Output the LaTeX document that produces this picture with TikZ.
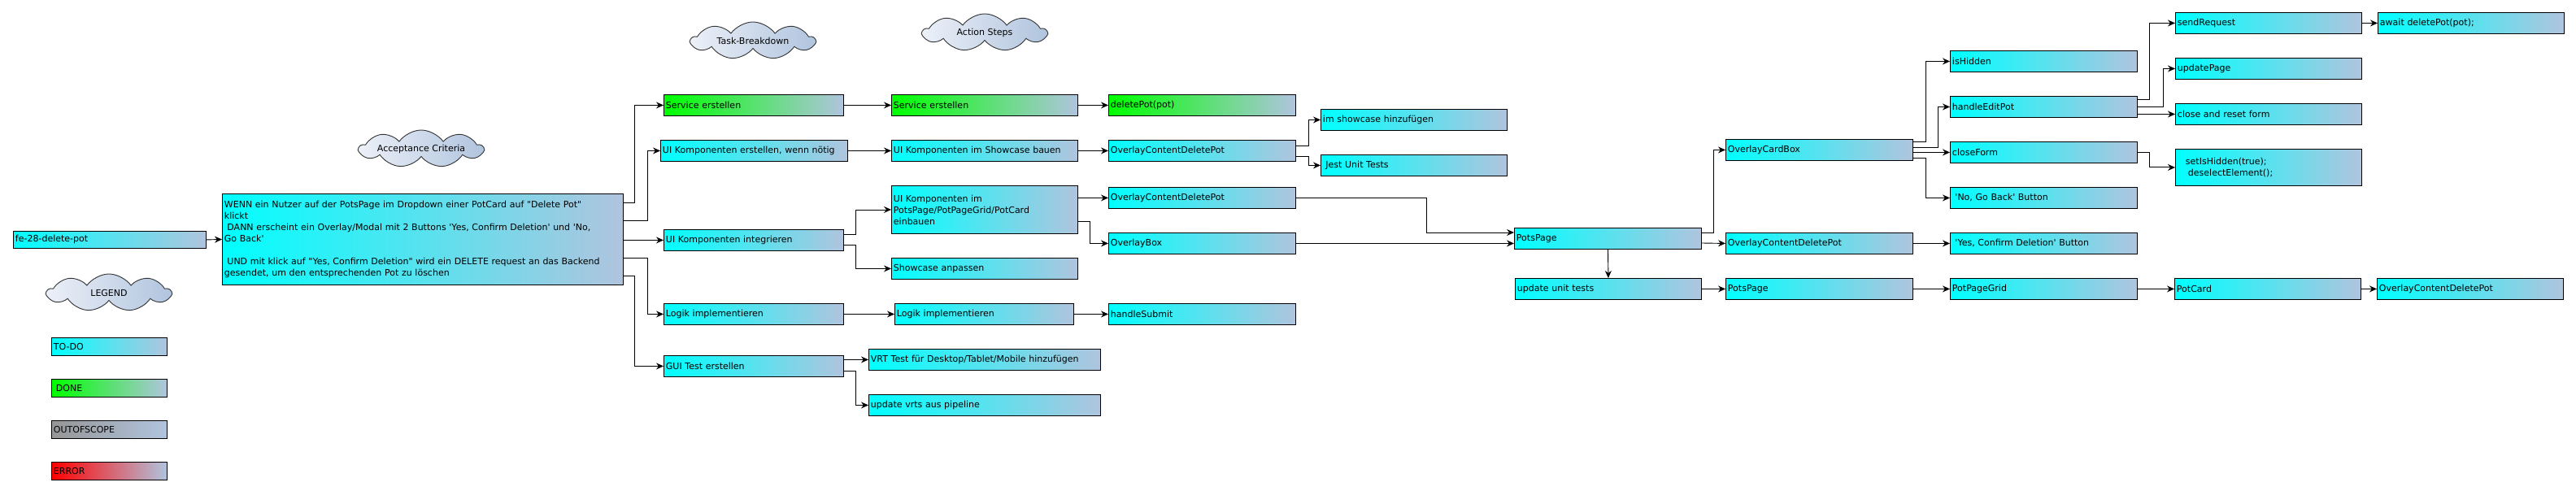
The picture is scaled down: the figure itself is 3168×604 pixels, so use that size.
\documentclass[tikz,border=0pt]{standalone}
\usepackage{fontspec}
\newfontfamily\boxfamily{DejaVu Sans}
\usetikzlibrary{shapes.symbols}
\usetikzlibrary{arrows.meta}

\definecolor{todo}{RGB}{0,255,255}
\definecolor{done}{RGB}{0,255,0}
\definecolor{outofscope}{RGB}{150,150,150}
\definecolor{error}{RGB}{255,0,0}
\definecolor{steel}{RGB}{176,196,222}
\definecolor{cloudleft}{RGB}{236,240,248}

\begin{document}
\begin{tikzpicture}[x=1pt,y=-1pt,
    font=\boxfamily\fontsize{11}{14}\selectfont,
    box/.style={draw=black, line width=0.9pt, anchor=north west, inner xsep=2.5pt, inner ysep=0pt,
        minimum height=26pt, text width=#1, align=left, left color=todo, right color=steel},
    box/.default=225pt,
    donebox/.style={box=#1, left color=done},
    donebox/.default=225pt,
    cloudnote/.style={cloud, cloud puffs=9, cloud puff arc=110, cloud ignores aspect, draw=black!80,
        line width=0.9pt, inner sep=0pt, minimum width=152pt, minimum height=46pt,
        left color=cloudleft, right color=steel},
    conn/.style={draw=black, line width=0.9pt, -{Stealth[length=9pt,width=8pt,inset=3pt]}}]
    \useasboundingbox (0,0) rectangle (3168,604);

    % Headings
    \node[cloudnote] (accept) at (518,183) {Acceptance Criteria};
    \node[cloudnote] (tasks) at (926,50) {Task-Breakdown};
    \node[cloudnote] (steps) at (1211,40) {Action Steps};

    % Legend
    \node[cloudnote] (legend) at (134,360) {LEGEND};
    \node[box=137pt, minimum height=22pt] (ltodo) at (63,415) {TO-DO};
    \node[box=137pt, minimum height=22pt, left color=done] (ldone) at (63,466) {\hspace*{3pt}DONE};
    \node[box=137pt, minimum height=22pt, left color=outofscope] (lscope) at (63,517) {OUTOFSCOPE};
    \node[box=137pt, minimum height=22pt, left color=error] (lerror) at (63,568) {ERROR};

    % Ticket and acceptance criteria
    \node[box=232pt, minimum height=21pt] (ticket) at (16,284) {fe-28-delete-pot};
    \node[box=488pt, minimum height=112pt] (ac) at (273,238) {WENN ein Nutzer auf der PotsPage im Dropdown einer PotCard auf "Delete Pot"\\
        klickt\\
        \hspace*{3.5pt}DANN erscheint ein Overlay/Modal mit 2 Buttons 'Yes, Confirm Deletion' und 'No,\\
        Go Back'\\
        \mbox{}\\
        \hspace*{3.5pt}UND mit klick auf "Yes, Confirm Deletion" wird ein DELETE request an das Backend\\
        gesendet, um den entsprechenden Pot zu löschen};

    % Task breakdown
    \node[donebox=216pt] (t1) at (816,116) {Service erstellen};
    \node[box] (t2) at (812,172) {UI Komponenten erstellen, wenn nötig};
    \node[box=216pt] (t3) at (816,282) {UI Komponenten integrieren};
    \node[box=216pt] (t4) at (816,373) {Logik implementieren};
    \node[box=216pt] (t5) at (816,437) {GUI Test erstellen};

    % Action steps
    \node[donebox=224pt] (as1) at (1096,116) {Service erstellen};
    \node[box=224pt] (as2) at (1096,172) {UI Komponenten im Showcase bauen};
    \node[box=224pt, minimum height=59pt] (as3) at (1096,228) {UI Komponenten im\\PotsPage/PotPageGrid/PotCard\\einbauen};
    \node[box=224pt] (as4) at (1096,317) {Showcase anpassen};
    \node[box=215pt] (as5) at (1100,373) {Logik implementieren};
    \node[box=280pt] (vrt) at (1068,429) {VRT Test für Desktop/Tablet/Mobile hinzufügen};
    \node[box=280pt] (vrts) at (1068,485) {update vrts aus pipeline};

    % Code level
    \node[donebox] (delpot) at (1363,116) {deletePot(pot)};
    \node[box] (ocdp1) at (1363,172) {OverlayContentDeletePot};
    \node[box] (ocdp2) at (1363,230) {OverlayContentDeletePot};
    \node[box] (obox) at (1363,286) {OverlayBox};
    \node[box] (submit) at (1363,373) {handleSubmit};
    \node[box=224pt] (showcase) at (1624,134) {im showcase hinzufügen};
    \node[box=224pt] (jest) at (1624,190) {\hspace*{3.5pt}Jest Unit Tests};

    % PotsPage and its children
    \node[box] (potspage) at (1862,280) {PotsPage};
    \node[box=224pt] (uut) at (1863,342) {update unit tests};
    \node[box] (ocb) at (2122,171) {OverlayCardBox};
    \node[box] (ocdp3) at (2122,286) {OverlayContentDeletePot};
    \node[box] (pp2) at (2122,342) {PotsPage};
    \node[box] (hidden) at (2398,62) {isHidden};
    \node[box] (edit) at (2398,118) {handleEditPot};
    \node[box] (close) at (2398,174) {closeForm};
    \node[box] (nogo) at (2398,230) {\hspace*{3.5pt}'No, Go Back' Button};
    \node[box] (yes) at (2398,286) {\hspace*{3.5pt}'Yes, Confirm Deletion' Button};
    \node[box] (grid) at (2398,342) {PotPageGrid};
    \node[box=224pt] (send) at (2675,15) {sendRequest};
    \node[box=224pt] (update) at (2675,71) {updatePage};
    \node[box=224pt] (reset) at (2675,127) {close and reset form};
    \node[box=224pt, minimum height=45pt] (hide) at (2675,183) {\hspace*{10pt}setIsHidden(true);\\\hspace*{13pt}deselectElement();};
    \node[box=224pt] (potcard) at (2674,342) {PotCard};
    \node[box=224pt] (await) at (2924,15) {await deletePot(pot);};
    \node[box=224pt] (ocdp4) at (2923,342) {OverlayContentDeletePot};

    % The lines!
    \draw[conn] (ticket.east) -- (ac.west);
    \draw[conn] ([yshift=-11pt]ac.north east) -- ++(14,0) |- (t1.west);
    \draw[conn] ([yshift=-33pt]ac.north east) -- ++(30,0) |- (t2.west);
    \draw[conn] (ac.east |- t3.west) -- (t3.west);
    \draw[conn] ([yshift=-79pt]ac.north east) -- ++(30,0) |- (t4.west);
    \draw[conn] ([yshift=-101pt]ac.north east) -- ++(14,0) |- (t5.west);

    \draw[conn] (t1.east) -- (as1.west);
    \draw[conn] (t2.east) -- (as2.west);
    \draw[conn] ([yshift=-6pt]t3.north east) -- ++(15,0) |- (as3.west);
    \draw[conn] ([yshift=-19pt]t3.north east) -- ++(15,0) |- (as4.west);
    \draw[conn] (t4.east) -- (as5.west);
    \draw[conn] (t5.east |- vrt.west) -- (vrt.west);
    \draw[conn] ([yshift=-19pt]t5.north east) -- ++(15,0) |- (vrts.west);

    \draw[conn] (as1.east) -- (delpot.west);
    \draw[conn] (as2.east) -- (ocdp1.west);
    \draw[conn] (as3.east |- ocdp2.west) -- (ocdp2.west);
    \draw[conn] ([yshift=-44pt]as3.north east) -- ++(15,0) |- (obox.west);
    \draw[conn] (as5.east) -- (submit.west);
    \draw[conn] ([yshift=-7pt]ocdp1.north east) -- ++(16,0) |- (showcase.west);
    \draw[conn] ([yshift=-20pt]ocdp1.north east) -- ++(16,0) |- (jest.west);
    \draw[conn] (ocdp2.east) -- ++(161,0) |- ([yshift=-6pt]potspage.north west);
    \draw[conn] (obox.east) -- (obox.east -| potspage.west);

    \draw[conn] ([yshift=-6pt]potspage.north east) -- ++(15,0) |- (ocb.west);
    \draw[conn] ([yshift=-19pt]potspage.north east) -- (ocdp3.west);
    \draw[conn] (potspage.south) -- (uut.north);
    \draw[conn] (uut.east) -- (pp2.west);
    \draw[conn] (pp2.east) -- (grid.west);
    \draw[conn] (grid.east) -- (potcard.west);
    \draw[conn] (potcard.east) -- (ocdp4.west);
    \draw[conn] (ocdp3.east) -- (yes.west);

    \draw[conn] ([yshift=-3pt]ocb.north east) -- ++(16,0) |- (hidden.west);
    \draw[conn] ([yshift=-10pt]ocb.north east) -- ++(31,0) |- (edit.west);
    \draw[conn] (ocb.east |- close.west) -- (close.west);
    \draw[conn] ([yshift=-23pt]ocb.north east) -- ++(16,0) |- (nogo.west);
    \draw[conn] ([yshift=-4pt]edit.north east) -- ++(15,0) |- (send.west);
    \draw[conn] (edit.east) -- ++(32,0) |- (update.west);
    \draw[conn] (edit.east |- reset.west) -- (reset.west);
    \draw[conn] (close.east) -- ++(15,0) |- (hide.west);
    \draw[conn] (send.east) -- (await.west);
\end{tikzpicture}
\end{document}
